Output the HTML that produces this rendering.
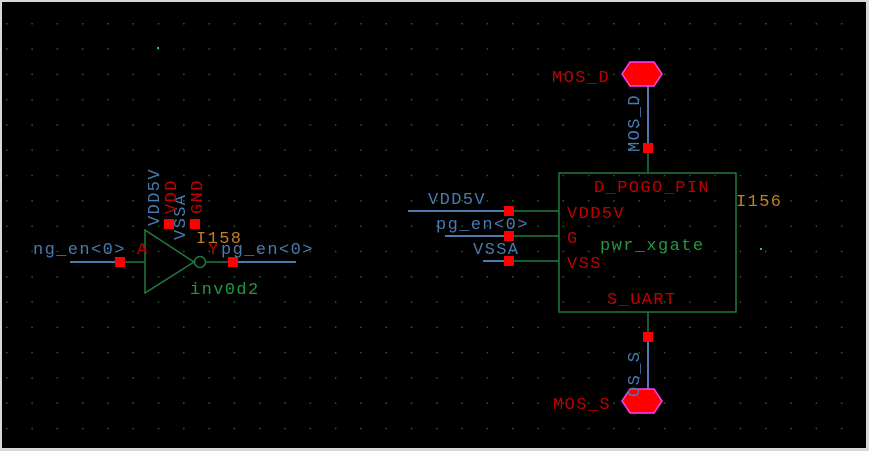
<!DOCTYPE html><html><head><style>body{margin:0;background:#d8d8d8}svg{display:block}text{font-family:"Liberation Mono",monospace;font-size:17px;letter-spacing:1.4px}</style></head><body>
<svg width="869" height="451" viewBox="0 0 869 451">
<defs><pattern id="g" x="6" y="23" width="25.3" height="25.3" patternUnits="userSpaceOnUse"><rect x="0" y="0" width="1.5" height="1.5" fill="#1a6a1a"/></pattern></defs>
<rect x="2" y="2" width="864" height="446" fill="#000"/>
<rect x="2" y="2" width="864" height="446" fill="url(#g)"/>
<g stroke="#4a7ab0" stroke-width="2" fill="none">
<line x1="70" y1="262" x2="125" y2="262"/><line x1="238" y1="262" x2="296" y2="262"/>
<line x1="408" y1="211" x2="514" y2="211"/><line x1="445" y1="236" x2="514" y2="236"/><line x1="483" y1="261" x2="514" y2="261"/>
<line x1="648" y1="85" x2="648" y2="148"/><line x1="648" y1="337" x2="648" y2="392"/>
</g>
<g stroke="#1f7a40" stroke-width="1.5" fill="none">
<line x1="120" y1="262" x2="145" y2="262"/><polygon points="145,230 145,293 194,262"/><circle cx="200" cy="262" r="5.5"/><line x1="206" y1="262" x2="233" y2="262"/>
<line x1="509" y1="211" x2="559" y2="211"/><line x1="509" y1="236" x2="559" y2="236"/><line x1="509" y1="261" x2="559" y2="261"/>
<rect x="559" y="173" width="177" height="139"/><line x1="648" y1="148" x2="648" y2="173"/><line x1="648" y1="312" x2="648" y2="337"/>
</g>
<g fill="#ff0000"><rect x="115" y="257" width="10" height="10"/><rect x="228" y="257" width="10" height="10"/><rect x="164" y="219" width="10" height="10"/><rect x="190" y="219" width="10" height="10"/>
<rect x="504" y="206" width="10" height="10"/><rect x="504" y="231" width="10" height="10"/><rect x="504" y="256" width="10" height="10"/><rect x="643" y="143" width="10" height="10"/><rect x="643" y="332" width="10" height="10"/></g>
<g fill="#ff0000" stroke="#ff40ff" stroke-width="1.5"><polygon points="622,74 630,62 654,62 662,74 654,86 630,86"/><polygon points="622,401 630,389 654,389 662,401 654,413 630,413"/></g>
<g fill="#4a7ab0"><text x="33" y="254">ng_en&lt;0&gt;</text><text x="221" y="254">pg_en&lt;0&gt;</text>
<text x="428" y="204">VDD5V</text><text x="436" y="229">pg_en&lt;0&gt;</text><text x="473" y="254">VSSA</text>
<text transform="translate(159,226) rotate(-90)">VDD5V</text><text transform="translate(185,240) rotate(-90)">VSSA</text>
<text transform="translate(639,152) rotate(-90)">MOS_D</text><text transform="translate(639,397) rotate(-90)">OS_S</text></g>
<g fill="#c00000"><text x="137" y="254">A</text><text x="208" y="254">Y</text>
<text transform="translate(176,214) rotate(-90)">VDD</text><text transform="translate(202,214) rotate(-90)">GND</text>
<text x="552" y="82">MOS_D</text><text x="553" y="409">MOS_S</text><text x="594" y="192">D_POGO_PIN</text>
<text x="567" y="218">VDD5V</text><text x="567" y="243">G</text><text x="567" y="268">VSS</text><text x="607" y="304">S_UART</text></g>
<g fill="#c08020"><text x="196" y="243">I158</text><text x="736" y="206">I156</text></g>
<g fill="#1f9a40"><text x="190" y="294">inv0d2</text><text x="600" y="250">pwr_xgate</text></g>
<rect x="760" y="248" width="2" height="2" fill="#2ab0c0"/><rect x="157" y="47" width="2" height="2" fill="#2ab0c0"/>
</svg></body></html>
